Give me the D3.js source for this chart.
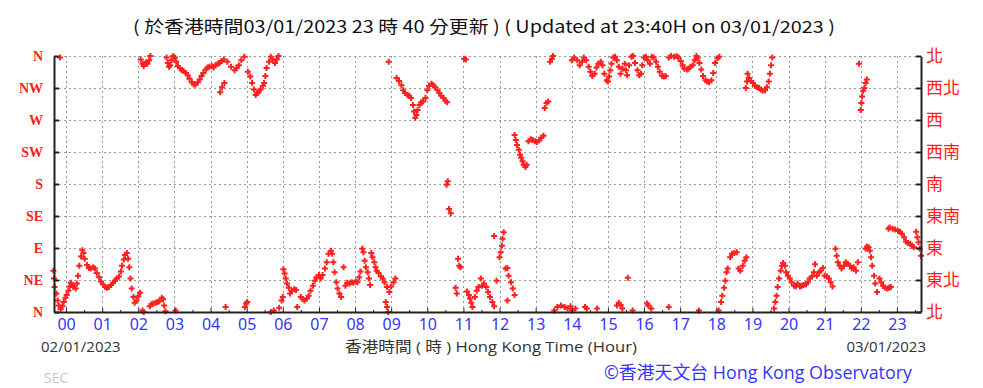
<!DOCTYPE html>
<html>
<head>
<meta charset="utf-8">
<script src="https://cdn.jsdelivr.net/npm/d3@7"></script>
<style>
  body { margin: 0; background: #fff; }
  svg { display: block; }
</style>
</head>
<body>
<div id="vis"></div>
<script>
// frame
const FRAME_WIDTH = 983;
const FRAME_HEIGHT = 388;
const PLOT = {left: 54, right: 921, top: 56, bottom: 312};

// labels
const DIR_LEVELS = [0, 45, 90, 135, 180, 225, 270, 315, 360];
const DIR_EN = ["N", "NE", "E", "SE", "S", "SW", "W", "NW", "N"];
const DIR_ZH = ["北", "東北", "東", "東南", "南", "西南", "西", "西北", "北"];
const HOUR_LABELS = ["00","01","02","03","04","05","06","07","08","09","10","11",
                     "12","13","14","15","16","17","18","19","20","21","22","23"];

// time window: minutes after 00:00 on 02/01/2023
const T_START = -20;   // 23:40 on 01/01
const T_END = 1420;    // 23:40 on 02/01

// wind direction readings [minute, degrees]
const obsEarly = [
  [-21,58],[-20,47],[-19,35],[-16,26],[-14,16],[-12,9],[-9,4],[-6,8],[-4,14],[-1,20],[1,24],[4,30],
  [6,36],[8,41],[10,38],[12,35],[16,33],[18,40],[20,51],[22,65],[25,78],[27,87],[29,83],[31,75],
  [35,66],[38,62],[41,61],[45,63],[48,61],[51,55],[55,49],[58,43],[61,39],[65,35],[68,34],[71,35],
  [75,38],[78,41],[81,44],[84,47],[88,50],[91,57],[93,65],[96,74],[98,80],[101,83],[103,75],[105,63],
  [107,47],[109,33],[112,21],[114,13],[117,16],[120,22],[123,27],[127,2],[129,0],[139,8],[142,11],
  [145,12],[149,13],[152,14],[155,15],[159,20],[161,18],[163,9],[165,1],[182,2],
  [-10,358],[124,355],[127,349],[129,346],[131,349],[133,351],[135,349],[138,354],[140,360],
  [167,358],[169,350],[171,345],[173,347],[175,354],[178,360],[181,358],[183,352],[186,346],
  [189,343],[192,340],[195,339],[199,336],[202,333],[205,328],[209,323],[212,320],[215,320],
  [219,323],[222,327],[225,332],[228,336],[232,341],[235,344],[238,345],[242,346],[245,344],
  [248,347],[252,349],[255,350],[258,353],[262,355],[256,309],[259,316],[263,322],[268,352],
  [274,345],[280,340],[283,343],[287,347],[291,354],[296,359],[265,7],[297,7],[299,12]
];

const obsMorning = [
  [301,14],[302,338],[306,331],[309,322],[312,313],[315,305],[318,308],[320,310],[323,313],
  [327,318],[329,322],[331,332],[333,343],[337,352],[340,359],[343,355],[347,350],[350,355],[353,360],
  [340,0],[345,2],[354,6],[358,16],[360,21],[361,60],[363,54],[365,47],[367,40],[370,34],[372,26],
  [375,30],[379,32],[382,31],[384,7],[390,21],[393,18],[396,16],[400,19],[403,23],[406,30],[410,37],
  [413,44],[416,49],[420,52],[423,47],[426,52],[430,61],[433,70],[436,82],[440,86],[442,82],[444,70],
  [446,56],[449,42],[451,33],[454,26],[457,21],[461,63],[464,37],[467,41],[471,40],[474,42],[477,41],
  [481,43],[484,42],[487,49],[489,57],[492,89],[494,84],[496,72],[498,63],[501,56],[503,47],[505,38],
  [507,83],[509,77],[512,70],[514,63],[516,58],[519,55],[523,50],[526,47],[529,42],[533,35],[531,14],
  [533,7],[535,0],[537,28],[540,36],[544,42],[547,47],
  [536,352],[549,329],[553,325],[557,319],[560,312],[563,308],[567,305],[570,304],[573,301],
  [576,291],[578,282],[580,273],[582,277],[584,284],[587,291],[590,295],[593,296],[597,301]
];

const obsMidday = [
  [600,312],[603,318],[607,321],[610,319],[613,316],[617,312],[620,308],[623,304],[627,301],
  [630,297],[633,295],[661,356],[664,355],[632,179],[634,184],[636,145],[639,139],[651,75],
  [653,65],[655,63],[647,34],[649,26],
  [666,29],[669,24],[671,19],[673,13],[675,7],[679,21],[682,30],[685,35],[689,47],[691,37],
  [694,40],[698,35],[701,28],[704,21],[708,14],[711,8],[715,44],[711,107],[720,77],[722,84],
  [724,93],[725,103],[727,112],[730,61],[733,62],[735,51],[739,42],[742,33],[745,24],[733,16],
  [745,249],[747,242],[749,235],[752,228],[754,221],[756,217],[758,212],[760,207],[763,204],
  [765,207],[768,240],[772,243],[775,242],[779,240],[782,239],[786,241],[789,245],[793,248],
  [795,287],[798,294],[801,296],[804,352],[807,356],[809,360],
  [811,2],[816,7],[822,9],[828,7],[833,5],[838,8]
];

const obsAfternoon = [
  [840,354],[844,358],[849,354],[853,347],[857,352],[860,358],[864,354],[868,345],[871,338],
  [874,332],[878,335],[881,344],[884,349],[888,352],[891,347],[894,335],[898,326],[900,324],
  [902,331],[904,340],[906,349],[909,358],[912,359],[915,354],[918,345],[921,335],[924,342],
  [928,349],[930,340],[932,333],[935,347],[939,359],[942,360],[945,350],[949,340],[952,333],
  [955,335],[957,347],[960,358],[963,359],[966,354],[970,349],[973,359],[976,358],[980,352],
  [983,345],[986,338],[990,332],[993,331],[996,332],[1001,358],[1005,360],[1010,359],[1014,360],
  [1017,358],[1021,353],[1024,347],[1027,342],[1031,341],[1034,342],[1037,345],[1041,347],
  [1044,354],[1047,360],[1049,357],[1052,350],[1055,341],[1058,332],[1062,326],[1065,324],
  [1068,323],[1072,326],[1075,336],[1078,350],[1082,357],[1085,359],
  [840,2],[846,5],[862,7],[865,5],[882,5],[915,9],[918,13],[921,10],[924,5],[933,48],[941,2],
  [965,12],[967,9],[972,5],[1001,7],[1051,2],[1084,2],[1088,14],[1090,23],[1093,34],[1095,44],
  [1097,56],[1099,61],[1103,77],[1106,82],[1110,83],[1114,84],[1117,61],[1120,58],[1124,65],
  [1127,72],[1130,77]
];

const obsEvening = [
  [1129,315],[1131,324],[1132,335],[1134,329],[1138,325],[1141,322],[1144,318],[1148,316],
  [1151,315],[1154,313],[1157,311],[1161,312],[1164,316],[1167,324],[1169,335],[1171,347],[1173,358],
  [1317,349],[1320,284],[1321,294],[1322,303],[1324,311],[1326,315],[1328,322],[1330,327],
  [1176,5],[1178,14],[1180,23],[1182,35],[1184,47],[1187,58],[1189,65],[1191,69],[1194,65],
  [1196,56],[1199,51],[1202,47],[1205,42],[1209,37],[1212,36],[1215,40],[1219,36],[1222,37],
  [1225,38],[1229,39],[1232,42],[1235,47],[1239,50],[1242,56],[1244,67],[1247,51],[1251,56],
  [1253,58],[1257,62],[1260,51],[1264,50],[1267,47],[1270,42],[1273,36],[1278,89],[1280,79],
  [1282,70],[1285,65],[1288,61],[1292,65],[1295,70],[1298,68],[1302,65],[1305,61],[1308,63],
  [1312,58],[1315,70],
  [1328,89],[1330,92],[1333,91],[1335,86],[1337,77],[1339,65],[1342,51],[1344,40],[1347,28],
  [1351,47],[1354,42],[1357,37],[1360,34],[1364,33],[1367,34],[1370,35],
  [1366,117],[1368,119],[1373,117],[1377,116],[1382,114],[1385,113],[1388,110],[1392,105],
  [1395,99],[1398,97],[1402,96],[1405,93],[1408,91],[1412,113],[1414,105],[1416,98],[1418,89],[1420,79]
];

const ALL_OBS = obsEarly.concat(obsMorning, obsMidday, obsAfternoon, obsEvening);

const RED = "#ff2020";
const BLUE = "#3535ff";

const svg = d3.select("#vis")
  .append("svg")
    .attr("width", FRAME_WIDTH)
    .attr("height", FRAME_HEIGHT);

// scales
const X_SCALE = d3.scaleLinear()
  .domain([T_START, T_END])
  .range([PLOT.left, PLOT.right]);

const Y_SCALE = d3.scaleLinear()
  .domain([0, 360])
  .range([PLOT.bottom, PLOT.top]);

const hourTicks = d3.range(0, 24).map((h) => h * 60);
const halfTicks = d3.range(0, 24).map((h) => h * 60 + 30).filter((t) => t < T_END);

// title
svg.append("text")
  .attr("x", 484)
  .attr("y", 33)
  .attr("text-anchor", "middle")
  .attr("textLength", 702)
  .attr("lengthAdjust", "spacingAndGlyphs")
  .attr("font-family", "'Liberation Sans Narrow', 'Noto Sans CJK TC', sans-serif")
  .attr("font-size", "17px")
  .attr("fill", "#111")
  .text("( 於香港時間03/01/2023 23 時 40 分更新 ) ( Updated at 23:40H on 03/01/2023 )");

// dotted grid
const grid = svg.append("g")
  .attr("stroke", "#999")
  .attr("stroke-width", 1)
  .attr("stroke-dasharray", "2,3");

grid.selectAll("line.h")
  .data(DIR_LEVELS.slice(1))
  .enter()
  .append("line")
    .attr("x1", PLOT.left)
    .attr("x2", PLOT.right)
    .attr("y1", (d) => Math.round(Y_SCALE(d)) + 0.5)
    .attr("y2", (d) => Math.round(Y_SCALE(d)) + 0.5);

grid.selectAll("line.v")
  .data(hourTicks)
  .enter()
  .append("line")
    .attr("x1", (d) => Math.round(X_SCALE(d)) + 0.5)
    .attr("x2", (d) => Math.round(X_SCALE(d)) + 0.5)
    .attr("y1", PLOT.top)
    .attr("y2", PLOT.bottom);

// readings as small crosses
svg.append("g")
  .selectAll("path")
  .data(ALL_OBS)
  .enter()
  .append("path")
    .attr("d", d3.symbol(d3.symbolCross).size(20))
    .attr("transform", (d) => "translate(" + X_SCALE(d[0]) + "," + Y_SCALE(d[1]) + ")")
    .attr("fill", RED);

// left axis (English)
const leftAxis = svg.append("g")
  .attr("transform", "translate(" + PLOT.left + ",0)")
  .call(d3.axisLeft(Y_SCALE)
    .tickValues(DIR_LEVELS)
    .tickFormat((d, i) => DIR_EN[i])
    .tickSizeInner(-5)
    .tickSizeOuter(0)
    .tickPadding(11));
leftAxis.select(".domain").attr("stroke", "#222").attr("stroke-width", 2);
leftAxis.selectAll(".tick line").attr("stroke", "#222").attr("stroke-width", 2);
leftAxis.selectAll("text")
  .attr("fill", RED)
  .attr("font-family", "'Liberation Serif', serif")
  .attr("font-weight", "bold")
  .attr("font-size", "14px");

// right axis (Chinese)
const rightAxis = svg.append("g")
  .attr("transform", "translate(" + PLOT.right + ",0)")
  .call(d3.axisRight(Y_SCALE)
    .tickValues(DIR_LEVELS)
    .tickFormat((d, i) => DIR_ZH[i])
    .tickSizeInner(-5)
    .tickSizeOuter(0)
    .tickPadding(5));
rightAxis.select(".domain").attr("stroke", "#222").attr("stroke-width", 2);
rightAxis.selectAll(".tick line").attr("stroke", "#222").attr("stroke-width", 2);
rightAxis.selectAll("text")
  .attr("fill", RED)
  .attr("font-family", "'Noto Sans CJK TC', sans-serif")
  .attr("font-size", "17px");

// bottom axis with hour labels
const bottomAxis = svg.append("g")
  .attr("transform", "translate(0," + PLOT.bottom + ")")
  .call(d3.axisBottom(X_SCALE)
    .tickValues(hourTicks)
    .tickFormat((d, i) => HOUR_LABELS[i])
    .tickSizeInner(-4)
    .tickSizeOuter(0)
    .tickPadding(7));
bottomAxis.select(".domain").attr("stroke", "#222").attr("stroke-width", 2);
bottomAxis.selectAll(".tick line").attr("stroke", "#222");
bottomAxis.selectAll("text")
  .attr("fill", BLUE)
  .attr("font-family", "'Noto Sans', 'Open Sans', sans-serif")
  .attr("font-size", "16px");

// minor half-hour ticks
svg.append("g")
  .attr("transform", "translate(0," + PLOT.bottom + ")")
  .call(d3.axisBottom(X_SCALE)
    .tickValues(halfTicks)
    .tickFormat("")
    .tickSizeInner(-2)
    .tickSizeOuter(0))
  .call((g) => g.select(".domain").remove())
  .selectAll(".tick line").attr("stroke", "#222");

// footer texts
const footFont = "'Open Sans', 'Noto Sans CJK TC', sans-serif";
svg.append("text")
  .attr("x", 41)
  .attr("y", 352)
  .attr("font-family", footFont)
  .attr("font-size", "15px")
  .attr("fill", "#333")
  .text("02/01/2023");

svg.append("text")
  .attr("x", 345)
  .attr("y", 352)
  .attr("textLength", 292)
  .attr("lengthAdjust", "spacingAndGlyphs")
  .attr("font-family", footFont)
  .attr("font-size", "15px")
  .attr("fill", "#333")
  .text("香港時間 ( 時 ) Hong Kong Time (Hour)");

svg.append("text")
  .attr("x", 926)
  .attr("y", 352)
  .attr("text-anchor", "end")
  .attr("font-family", footFont)
  .attr("font-size", "15px")
  .attr("fill", "#333")
  .text("03/01/2023");

svg.append("text")
  .attr("x", 44)
  .attr("y", 383)
  .attr("font-family", footFont)
  .attr("font-size", "14px")
  .attr("fill", "#c8c8c8")
  .text("SEC");

svg.append("text")
  .attr("x", 604)
  .attr("y", 379)
  .attr("textLength", 308)
  .attr("lengthAdjust", "spacingAndGlyphs")
  .attr("font-family", footFont)
  .attr("font-size", "18px")
  .attr("fill", BLUE)
  .text("©香港天文台 Hong Kong Observatory");
</script>
</body>
</html>
